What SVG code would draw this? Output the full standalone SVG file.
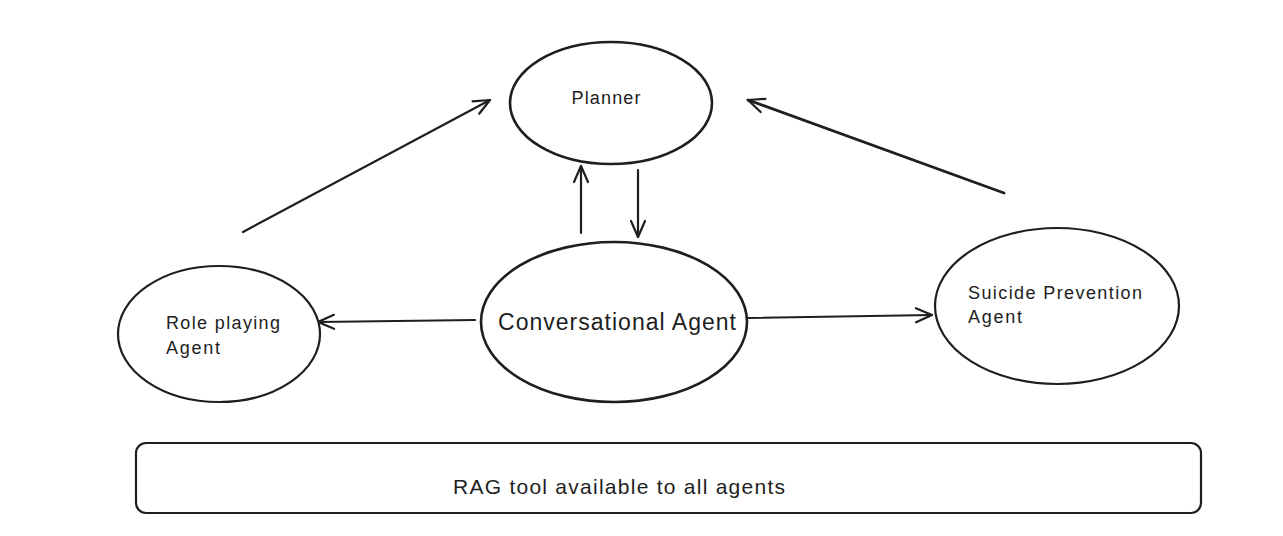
<svg xmlns="http://www.w3.org/2000/svg" width="1283" height="536" viewBox="0 0 1283 536">
<style>
.n{fill:#fff;stroke:#1e1e1e;stroke-width:2.2}
.c{fill:none;stroke:#1e1e1e;stroke-width:2.2;stroke-linecap:round;marker-end:url(#ah)}
.t{font-family:"Liberation Sans",Arial,sans-serif;fill:#1e1e1e}
</style>
<defs>
<marker id="ah" viewBox="0 0 20 20" refX="18" refY="10" markerWidth="20" markerHeight="20" markerUnits="userSpaceOnUse" orient="auto">
<path d="M2,3 L18,10 L2,17" fill="none" stroke="#1e1e1e" stroke-width="2.2" stroke-linecap="round" stroke-linejoin="round"/>
</marker>
</defs>
<rect width="1283" height="536" fill="#fff"/>
<g id="connectors">
<path class="c" d="M243,232 L490,100"/>
<path class="c" d="M1004,193 L748,100" style="stroke-width:2.8"/>
<path class="c" d="M581,233 L581,166"/>
<path class="c" d="M638,170 L638,237"/>
<path class="c" d="M475,320 L318,322"/>
<path class="c" d="M748,318 L932,315"/>
</g>
<g id="planner">
<ellipse class="n" cx="611" cy="103" rx="101" ry="61" style="stroke-width:2.6"/>
<text class="t" x="606" y="104" font-size="18" text-anchor="middle" textLength="69">Planner</text>
</g>
<g id="conversational">
<ellipse class="n" cx="614" cy="322" rx="133" ry="80" style="stroke-width:2.6"/>
<text class="t" x="617" y="330" font-size="23" text-anchor="middle" textLength="238">Conversational Agent</text>
</g>
<g id="roleplaying">
<ellipse class="n" cx="219" cy="334" rx="101" ry="68"/>
<text class="t" font-size="18"><tspan x="166" y="329" textLength="114">Role playing</tspan><tspan x="166" y="354" textLength="54">Agent</tspan></text>
</g>
<g id="suicide">
<ellipse class="n" cx="1057" cy="306" rx="122" ry="78"/>
<text class="t" font-size="18"><tspan x="968" y="299" textLength="174">Suicide Prevention</tspan><tspan x="968" y="323" textLength="54">Agent</tspan></text>
</g>
<g id="rag">
<rect class="n" x="136" y="443" width="1065" height="70" rx="10"/>
<text class="t" x="453" y="494" font-size="21" textLength="332">RAG tool available to all agents</text>
</g>
</svg>
